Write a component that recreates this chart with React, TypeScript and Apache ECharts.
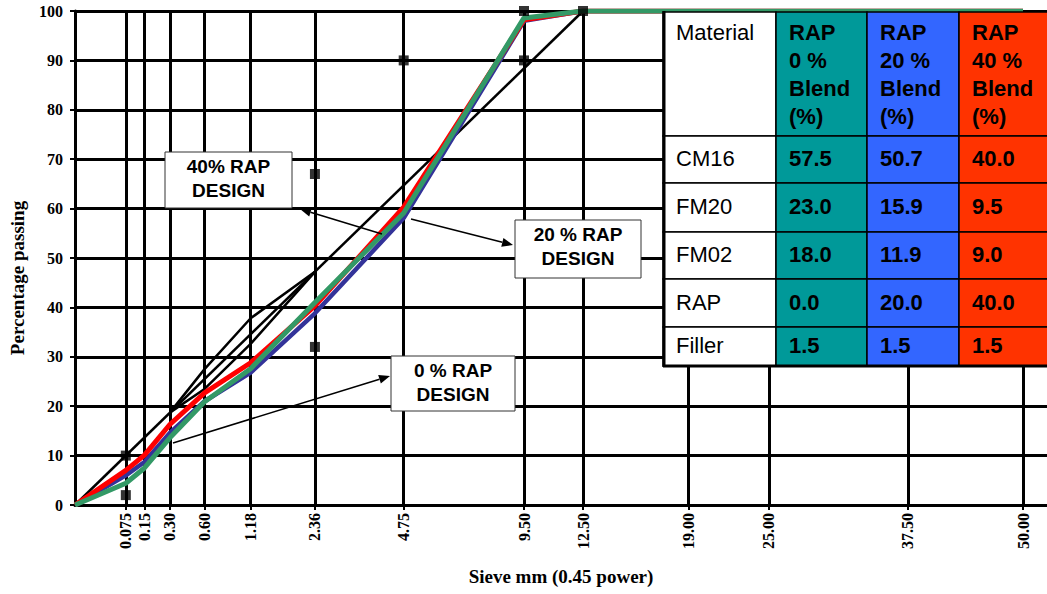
import React, { useEffect, useRef } from "react";
import * as echarts from "echarts";

// ---- data ----
const SIEVES = [0, 0.075, 0.15, 0.3, 0.6, 1.18, 2.36, 4.75, 9.5, 12.5, 19, 25, 37.5, 50];
const SIEVE_TICKS = [0.075, 0.15, 0.3, 0.6, 1.18, 2.36, 4.75, 9.5, 12.5, 19, 25, 37.5, 50];
const SIEVE_LABELS = ["0.075", "0.15", "0.30", "0.60", "1.18", "2.36", "4.75", "9.50", "12.50", "19.00", "25.00", "37.50", "50.00"];
const RAP0 = [0, 4.4, 7.5, 13.6, 20.9, 27.6, 41.0, 59.1, 98.6, 100, 100, 100, 100, 100];
const RAP20 = [0, 6.0, 8.7, 14.6, 21.0, 26.8, 38.8, 58.1, 98.0, 100, 100, 100, 100, 100];
const RAP40 = [0, 7.0, 10.1, 16.3, 22.7, 28.8, 40.3, 60.3, 98.2, 100, 100, 100, 100, 100];
const MAXDEN_SIEVES = [0, 12.5];
const MAXDEN_VALUES = [0, 100];
const RZ_SIEVES = [0.3, 0.6, 1.18, 2.36];
const RZ_UPPER = [18.7, 27.5, 37.8, 47.2];
const RZ_LOWER = [18.7, 23.5, 32.6, 47.2];
const CP_SIEVES = [0.075, 0.075, 2.36, 2.36, 4.75, 9.5, 9.5, 12.5];
const CP_VALUES = [2, 10, 32, 67, 90, 90, 100, 100];
const Y_TICKS_INTERVAL = 10;

const TABLE_HEADER = ["Material", "RAP\n0 %\nBlend\n(%)", "RAP\n20 %\nBlend\n(%)", "RAP\n40 %\nBlend\n(%)"];
const TABLE_MATERIALS = ["CM16", "FM20", "FM02", "RAP", "Filler"];
const BLEND_RAP0 = ["57.5", "23.0", "18.0", "0.0", "1.5"];
const BLEND_RAP20 = ["50.7", "15.9", "11.9", "20.0", "1.5"];
const BLEND_RAP40 = ["40.0", "9.5", "9.0", "40.0", "1.5"];

const POW = 0.45;
const px = (s: number) => Math.pow(s, POW);
const pts = (s: number[], v: number[]) => s.map((x, i) => [px(x), v[i]]);
const XMAX = 5.962;

function arrow(x1: number, y1: number, x2: number, y2: number) {
  const ang = Math.atan2(y2 - y1, x2 - x1);
  const L = 11, W = 4.5;
  const bx = x2 - L * Math.cos(ang), by = y2 - L * Math.sin(ang);
  const nx = -Math.sin(ang), ny = Math.cos(ang);
  return [
    { type: "line", z: 50, shape: { x1, y1, x2: bx, y2: by }, style: { stroke: "#000", lineWidth: 1.5 } },
    {
      type: "polygon", z: 50,
      shape: { points: [[x2, y2], [bx + nx * W, by + ny * W], [bx - nx * W, by - ny * W]] },
      style: { fill: "#000" },
    },
  ];
}

function labelBox(x: number, y: number, w: number, h: number, l1: string, l2: string) {
  const cx = x + w / 2;
  const font = "bold 19px 'Liberation Sans', Arial, sans-serif";
  return [
    { type: "rect", z: 60, shape: { x, y, width: w, height: h }, style: { fill: "#fff", stroke: "#333", lineWidth: 1 } },
    { type: "text", z: 61, x: cx, y: y + 14, style: { text: l1, font, fill: "#000", align: "center", verticalAlign: "middle" } },
    { type: "text", z: 61, x: cx, y: y + 38, style: { text: l2, font, fill: "#000", align: "center", verticalAlign: "middle" } },
  ];
}

function buildTable() {
  const colX = [663, 776, 867, 959, 1060];
  const rowY = [12, 136, 183, 232, 279, 327, 366];
  const fills = ["#ffffff", "#009999", "#3366FF", "#FF3300"];
  const cols = [TABLE_MATERIALS, BLEND_RAP0, BLEND_RAP20, BLEND_RAP40];
  const els: any[] = [];
  const fontR = "22px 'Liberation Sans', Arial, sans-serif";
  const fontB = "bold 22px 'Liberation Sans', Arial, sans-serif";
  for (let c = 0; c < 4; c++) {
    for (let r = 0; r < rowY.length - 1; r++) {
      els.push({
        type: "rect", z: 80,
        shape: { x: colX[c], y: rowY[r], width: colX[c + 1] - colX[c], height: rowY[r + 1] - rowY[r] },
        style: { fill: fills[c], stroke: "#000", lineWidth: 1.5 },
      });
    }
    const hdr = TABLE_HEADER[c].split("\n");
    hdr.forEach((t, i) => {
      els.push({
        type: "text", z: 82, x: colX[c] + 13, y: 32 + i * 28,
        style: { text: t, font: c === 0 ? fontR : fontB, fill: "#000", align: "left", verticalAlign: "middle" },
      });
    });
    cols[c].forEach((t, r) => {
      els.push({
        type: "text", z: 82, x: colX[c] + 13, y: (rowY[r + 1] + rowY[r + 2]) / 2 - 1,
        style: { text: t, font: c === 0 ? fontR : fontB, fill: "#000", align: "left", verticalAlign: "middle" },
      });
    });
  }
  els.push({ type: "line", z: 85, shape: { x1: 664, y1: 11, x2: 664, y2: 367 }, style: { stroke: "#000", lineWidth: 3 } });
  els.push({ type: "line", z: 85, shape: { x1: 663, y1: 366, x2: 1060, y2: 366 }, style: { stroke: "#000", lineWidth: 3 } });
  return els;
}

export default function App() {
  const ref = useRef<HTMLDivElement>(null);
  useEffect(() => {
    if (!ref.current) return;
    const chart = echarts.init(ref.current, null, { renderer: "svg" });
    const tickVals = SIEVE_TICKS.map(px);
    const serif = "'Liberation Serif', 'Times New Roman', serif";
    const lineS = (name: string, data: number[][], color: string, width: number) => ({
      name, type: "line", data, showSymbol: false, symbol: "none",
      lineStyle: { color, width }, itemStyle: { color }, z: 3,
    });
    chart.setOption({
      animation: false,
      backgroundColor: "#fff",
      grid: { left: 75, right: 0, top: 11, bottom: 89, containLabel: false },
      xAxis: {
        type: "value", min: 0, max: XMAX,
        name: "Sieve mm (0.45 power)", nameLocation: "middle", nameGap: 62,
        nameTextStyle: { fontFamily: serif, fontWeight: "bold", fontSize: 19, color: "#000" },
        axisLine: { show: true, onZero: false, lineStyle: { color: "#000", width: 3 } },
        axisTick: { show: true, length: 5, customValues: tickVals, lineStyle: { color: "#000", width: 2 } },
        axisLabel: {
          customValues: tickVals, rotate: 90, margin: 8,
          fontFamily: serif, fontWeight: "bold", fontSize: 16, color: "#000",
          formatter: (v: number) => {
            let best = 0, d = Infinity;
            tickVals.forEach((t, i) => { if (Math.abs(t - v) < d) { d = Math.abs(t - v); best = i; } });
            return SIEVE_LABELS[best];
          },
        },
        splitLine: { show: true, lineStyle: { color: "#000", width: 3 } },
      },
      yAxis: {
        type: "value", min: 0, max: 100, interval: Y_TICKS_INTERVAL,
        axisLine: { show: true, lineStyle: { color: "#000", width: 3 } },
        axisTick: { show: true, length: 5, lineStyle: { color: "#000", width: 2 } },
        axisLabel: { margin: 12, fontFamily: serif, fontWeight: "bold", fontSize: 16, color: "#000" },
        splitLine: { show: true, lineStyle: { color: "#000", width: 3 } },
      },
      series: [
        lineS("Max density", pts(MAXDEN_SIEVES, MAXDEN_VALUES), "#000", 2.5),
        lineS("RZ upper", pts(RZ_SIEVES, RZ_UPPER), "#000", 2.5),
        lineS("RZ lower", pts(RZ_SIEVES, RZ_LOWER), "#000", 2.5),
        lineS("20% RAP", pts(SIEVES, RAP20), "#333399", 4.5),
        lineS("40% RAP", pts(SIEVES, RAP40), "#FF0000", 5),
        lineS("0% RAP", pts(SIEVES, RAP0), "#339966", 5),
        {
          name: "Control points", type: "scatter", symbol: "rect", symbolSize: 10,
          data: pts(CP_SIEVES, CP_VALUES), itemStyle: { color: "#000" }, z: 4,
        },
      ],
      graphic: [
        {
          type: "text", x: 17, y: 278, rotation: Math.PI / 2, z: 10,
          style: {
            text: "Percentage passing", font: `bold 19px ${serif}`, fill: "#000",
            align: "center", verticalAlign: "middle",
          },
        },
        ...arrow(382, 234, 300, 209),
        ...arrow(411, 219, 513, 245),
        ...arrow(173, 443, 390, 376),
        ...labelBox(165, 152, 127, 56, "40% RAP", "DESIGN"),
        ...labelBox(515, 220, 126, 58, "20 % RAP", "DESIGN"),
        ...labelBox(391, 356, 124, 55, "0 % RAP", "DESIGN"),
        ...buildTable(),
      ],
    });
    return () => chart.dispose();
  }, []);
  return <div ref={ref} style={{ position: "absolute", left: 0, top: 0, width: 1047, height: 594 }} />;
}
